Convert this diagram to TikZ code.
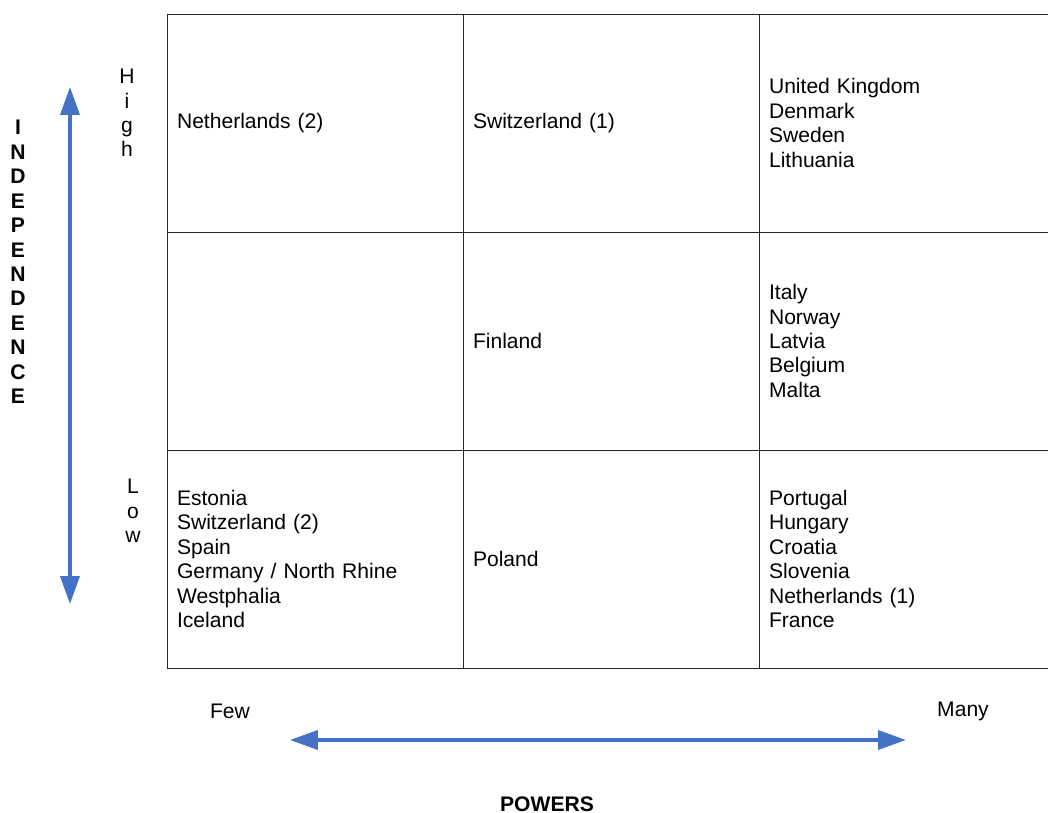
\documentclass[tikz,border=0pt]{standalone}
\usepackage{fontspec}
\setmainfont{Liberation Sans}
\usepackage{tikz}
\usetikzlibrary{
    positioning,           % Relative positioning
    arrows.meta            % Modern arrow tips
}
\definecolor{axisblue}{HTML}{4472C4}
\tikzset{cell/.style={
    draw=black!85, line width=0.5pt,
    minimum width=5.92cm, minimum height=4.36cm,
    text width=5.52cm, inner xsep=0.2cm, align=left
}}
\tikzset{axis/.style={
    draw=axisblue, line width=2.1pt,
    {Triangle[length=0.56cm,width=0.38cm]}-{Triangle[length=0.56cm,width=0.38cm]}
}}
\tikzset{stack/.style={align=center}}

\begin{document}
\begin{tikzpicture}[x=0.02cm, y=-0.02cm, font=\fontsize{12}{13.9}\selectfont]
    \clip (0,0) rectangle (1048,813);
    % grid of cells
    \node[cell] (c11) at (315,123) {Netherlands (2)};
    \node[cell] (c12) at (611,123) {Switzerland (1)};
    \node[cell] (c13) at (907,123) {United Kingdom\\Denmark\\Sweden\\Lithuania};
    \node[cell] (c21) at (315,341) {};
    \node[cell] (c22) at (611,341) {Finland};
    \node[cell] (c23) at (907,341) {Italy\\Norway\\Latvia\\Belgium\\Malta};
    \node[cell] (c31) at (315,559) {Estonia\\Switzerland (2)\\Spain\\Germany / North Rhine\\Westphalia\\Iceland};
    \node[cell] (c32) at (611,559) {Poland};
    \node[cell] (c33) at (907,559) {Portugal\\Hungary\\Croatia\\Slovenia\\Netherlands (1)\\France};
    % vertical axis
    \node[stack] (high) at (127,113) {H\\i\\g\\h};
    \node[stack] (low) at (133,511) {L\\o\\w};
    \node[stack, font=\fontsize{12}{13.9}\selectfont\bfseries] (indep) at (18,262)
        {I\\N\\D\\E\\P\\E\\N\\D\\E\\N\\C\\E};
    \coordinate (vtop) at (70,87);
    \coordinate (vbot) at (70,604);
    \draw[axis] (vtop) -- (vbot);
    % horizontal axis
    \node (few) at (230,711) {Few};
    \node (many) at (963,711) {Many};
    \node[font=\fontsize{12}{13.9}\selectfont\bfseries] (powers) at (547,804) {POWERS};
    \coordinate (hleft) at (290,740);
    \coordinate (hright) at (906,740);
    \draw[axis] (hleft) -- (hright);
\end{tikzpicture}
\end{document}
